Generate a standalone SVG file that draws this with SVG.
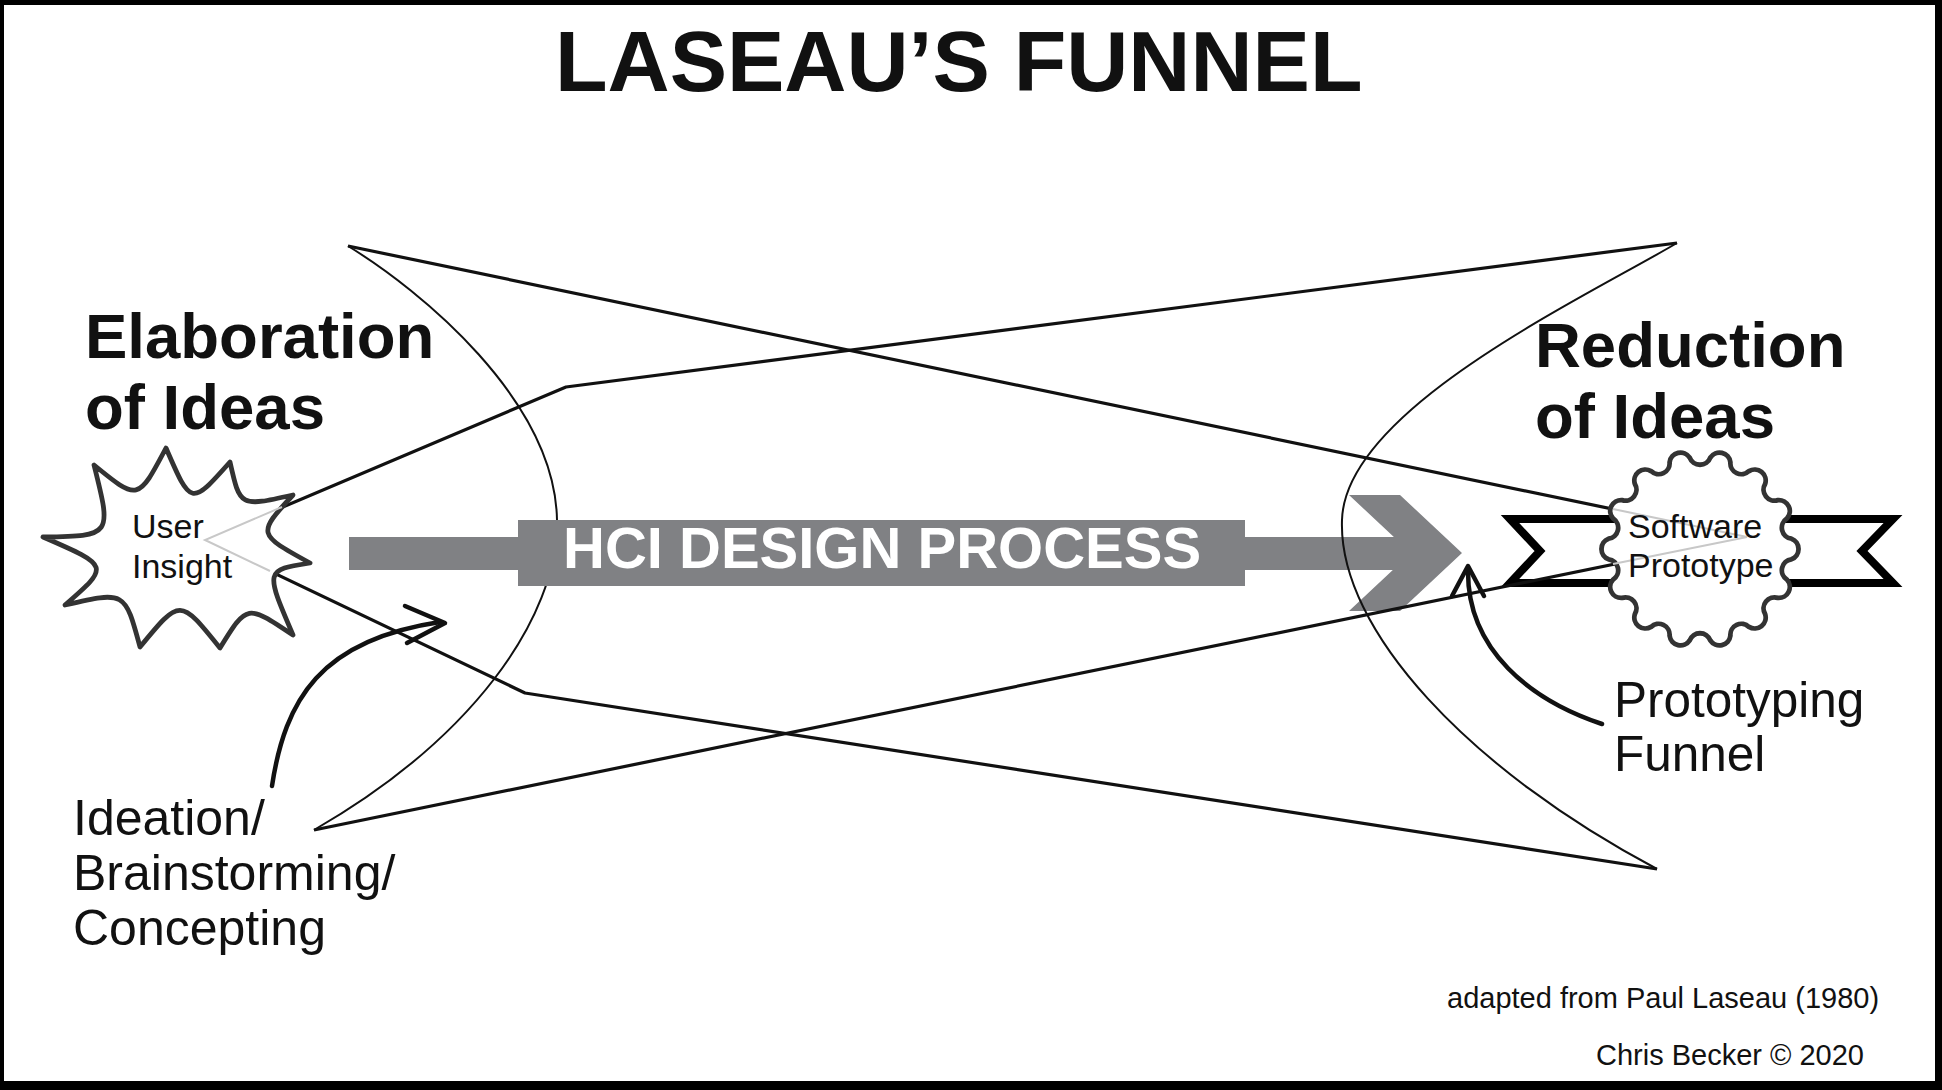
<svg xmlns="http://www.w3.org/2000/svg" width="1942" height="1090" viewBox="0 0 1942 1090">
<style>
.t{font-family:"Liberation Sans",Arial,sans-serif;fill:#111}
.b{font-weight:bold}
.ln{fill:none;stroke:#111;stroke-width:3.2;stroke-linejoin:round}
.arc{fill:none;stroke:#111;stroke-width:2}
.gr{fill:none;stroke:#c8c8c8;stroke-width:2}
.cv{fill:none;stroke:#111;stroke-width:4.5;stroke-linecap:round;stroke-linejoin:round}
.hd{fill:#fff;stroke:#333;stroke-width:4.8;stroke-linejoin:round}
.ar{fill:#808184}
</style>
<rect x="0" y="0" width="1942" height="1090" fill="#000"/>
<rect x="4" y="5" width="1931" height="1076" fill="#fff"/>

<g id="title">
<text class="t b" x="555" y="91" font-size="86">LASEAU’S FUNNEL</text>
</g>

<g id="ribbon">
<polygon points="1510,519 1893,519 1862,551 1893,583 1510,583 1540,551" fill="#fff" stroke="#000" stroke-width="8" stroke-linejoin="miter"/>
</g>

<g id="connectors-back">
<path class="arc" d="M348,246 C420,290 555,400 557,520 C558,620 470,740 314,830"/>
</g>

<g id="hci-arrow">
<rect class="ar" x="349" y="537" width="1062" height="33"/>
<rect class="ar" x="518" y="520" width="727" height="66"/>
<polygon class="ar" points="1349,495 1400,495 1462,553 1400,611 1349,611 1411,553"/>
<text x="563" y="568" font-size="58" font-family="Liberation Sans,Arial,sans-serif" font-weight="bold" fill="#fff">HCI DESIGN PROCESS</text>
</g>

<g id="connectors">
<path class="arc" d="M1677,243 C1580,300 1345,410 1342,520 C1338,630 1470,770 1657,869"/>
<path class="ln" d="M205,540 L566,387 L1677,243"/>
<path class="ln" d="M205,540 L525,693 L1657,869"/>
<path class="ln" d="M348,246 L1747,537"/>
<path class="ln" d="M314,830 L1747,537"/>
<path class="cv" d="M272,786 C285,700 320,640 440,622"/>
<polyline class="cv" points="405,606 445,623 407,643"/>
<path class="cv" d="M1602,724 C1530,700 1468,650 1468,572"/>
<polyline class="cv" points="1452,596 1468,566 1484,596"/>
</g>

<g id="user-insight">
<path class="hd" d="M43,537 C112,536 112,536 94,465 C138,501 138,501 166,448 C191,506 191,506 230,462 C240,507 240,507 293,495 C257,534 257,534 310,563 C265,570 265,570 293,635 C247,604 247,604 220,648 C180,598 180,598 140,647 C125,591 125,591 65,605 C110,566 110,566 43,537 Z"/>
<path class="gr" d="M282,507 L205,540 L270,571"/>
<text class="t" x="132" y="538" font-size="34" fill="#222">User</text>
<text class="t" x="132" y="578" font-size="34" fill="#222">Insight</text>
</g>

<g id="software-prototype">
<path class="hd" d="M1710.3,457.6 A11 11 0 0 1 1730.4,462.2 A11 11 0 0 0 1749,471.1 A11 11 0 0 1 1765.1,484 A11 11 0 0 0 1777.9,500.1 A11 11 0 0 1 1786.8,518.6 A11 11 0 0 0 1791.4,538.7 A11 11 0 0 1 1791.4,559.3 A11 11 0 0 0 1786.8,579.4 A11 11 0 0 1 1777.9,597.9 A11 11 0 0 0 1765.1,614 A11 11 0 0 1 1749,626.9 A11 11 0 0 0 1730.4,635.8 A11 11 0 0 1 1710.3,640.4 A11 11 0 0 0 1689.7,640.4 A11 11 0 0 1 1669.6,635.8 A11 11 0 0 0 1651,626.9 A11 11 0 0 1 1634.9,614 A11 11 0 0 0 1622.1,597.9 A11 11 0 0 1 1613.2,579.4 A11 11 0 0 0 1608.6,559.3 A11 11 0 0 1 1608.6,538.7 A11 11 0 0 0 1613.2,518.6 A11 11 0 0 1 1622.1,500.1 A11 11 0 0 0 1634.9,484 A11 11 0 0 1 1651,471.1 A11 11 0 0 0 1669.6,462.2 A11 11 0 0 1 1689.7,457.6 A11 11 0 0 0 1710.3,457.6 Z"/>
<path class="gr" d="M1613,509 L1747,537 L1613,564"/>
<text class="t" x="1628" y="538" font-size="34" fill="#222">Software</text>
<text class="t" x="1628" y="577" font-size="34" fill="#222">Prototype</text>
</g>

<g id="elaboration-label">
<text class="t b" x="85" y="358" font-size="63.5">Elaboration</text>
<text class="t b" x="85" y="429" font-size="63.5">of Ideas</text>
</g>

<g id="reduction-label">
<text class="t b" x="1535" y="367" font-size="63.5">Reduction</text>
<text class="t b" x="1535" y="438" font-size="63.5">of Ideas</text>
</g>

<g id="ideation-label">
<text class="t" x="73" y="835" font-size="50">Ideation/</text>
<text class="t" x="73" y="890" font-size="50">Brainstorming/</text>
<text class="t" x="73" y="945" font-size="50">Concepting</text>
</g>

<g id="prototyping-label">
<text class="t" x="1614" y="717" font-size="49.5">Prototyping</text>
<text class="t" x="1614" y="771" font-size="49.5">Funnel</text>
</g>

<g id="credits">
<text class="t" x="1447" y="1008" font-size="29" fill="#333">adapted from Paul Laseau (1980)</text>
<text class="t" x="1596" y="1065" font-size="29" fill="#333">Chris Becker © 2020</text>
</g>
</svg>
